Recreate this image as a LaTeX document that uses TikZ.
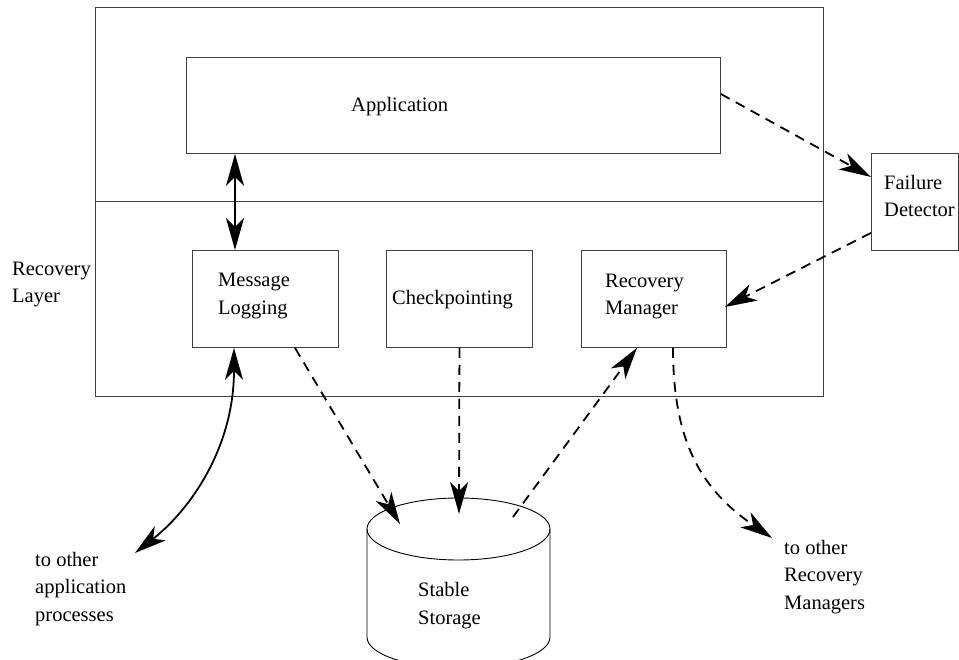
\documentclass[tikz,border=0pt]{standalone}
\usepackage{fontspec}
\setmainfont{Liberation Serif}
\usetikzlibrary{arrows.meta,calc}
\begin{document}
\begin{tikzpicture}[x=1pt,y=-1pt,
  box/.style={draw=black!75, line width=0.9pt, inner sep=0pt, anchor=north west},
  lbl/.style={anchor=base west, inner sep=0pt, align=left, font=\fontsize{20.5}{27.5}\selectfont},
  link/.style={line width=1.8pt, -{Stealth[length=32pt,width=18pt,inset=9pt]}},
  link2/.style={line width=1.8pt, {Stealth[length=32pt,width=18pt,inset=9pt]}-{Stealth[length=32pt,width=18pt,inset=9pt]}},
  dlink/.style={link, dash pattern=on 10pt off 7pt},
]
\useasboundingbox (0,0) rectangle (959,660);
\clip (0,0) rectangle (959,660);

% boxes
\node[box, minimum width=728pt, minimum height=389pt] (outer) at (95,7) {};
\draw[draw=black!75, line width=0.9pt] (outer.west |- 0,201) -- (outer.east |- 0,201);
\node[box, minimum width=534pt, minimum height=96pt] (app) at (186,57) {};
\node[box, minimum width=87pt, minimum height=97pt] (fd) at (871,153) {};
\node[box, minimum width=146pt, minimum height=97pt] (ml) at (192,250) {};
\node[box, minimum width=146pt, minimum height=97pt] (cp) at (386,250) {};
\node[box, minimum width=145pt, minimum height=97pt] (rm) at (581,250) {};

% stable storage cylinder
\draw[line width=0.9pt] (458.5,529) ellipse [x radius=91.5, y radius=31];
\draw[line width=0.9pt] (367,529) -- (367,637) arc[start angle=180, end angle=0, x radius=91.5, y radius=31] -- (550,529);
\coordinate (sIn1) at (400,524);
\coordinate (sIn2) at (459,514);
\coordinate (sOut) at (513,517);
\coordinate (apA) at (135,553);
\coordinate (rmA) at (772,538);

% labels (anchor = baseline of the last line)
\node[lbl] (tApp) at (351,112) {Application};
\node[lbl] (tFd) at (884,217) {Failure\\Detector};
\node[lbl] (tMl) at (218,314.5) {Message\\Logging};
\node[lbl] (tCp) at (392,305) {Checkpointing};
\node[lbl] (tRm) at (605,315) {Recovery\\Manager};
\node[lbl] (tRl) at (12,303) {Recovery\\Layer};
\node[lbl] (tAp) at (35,621) {to other\\application\\processes};
\node[lbl] (tSs) at (418,624) {Stable\\Storage};
\node[lbl] (tRms) at (784,609) {to other\\Recovery\\Managers};

% connectors
\draw[link2] ($(app.south west)+(49,0)$) -- ($(ml.north west)+(43,0)$);
\draw[dlink] ($(app.north east)+(0,37)$) -- ($(fd.north west)+(0,24)$);
\draw[dlink] ($(fd.south west)+(0,-18)$) -- ($(rm.north east)+(-2,57)$);
\draw[link2] ($(ml.south west)+(42,0)$) .. controls +(0,100) and +(55,-43) .. (apA);
\draw[dlink] ($(ml.south west)+(103,0)$) -- (sIn1);
\draw[dlink] (cp.south) -- (sIn2);
\draw[dlink] (sOut) -- ($(rm.south west)+(56,0)$);
\draw[dlink] ($(rm.south west)+(92,0)$) .. controls +(0,95) and +(-70,-48) .. (rmA);
\end{tikzpicture}
\end{document}
